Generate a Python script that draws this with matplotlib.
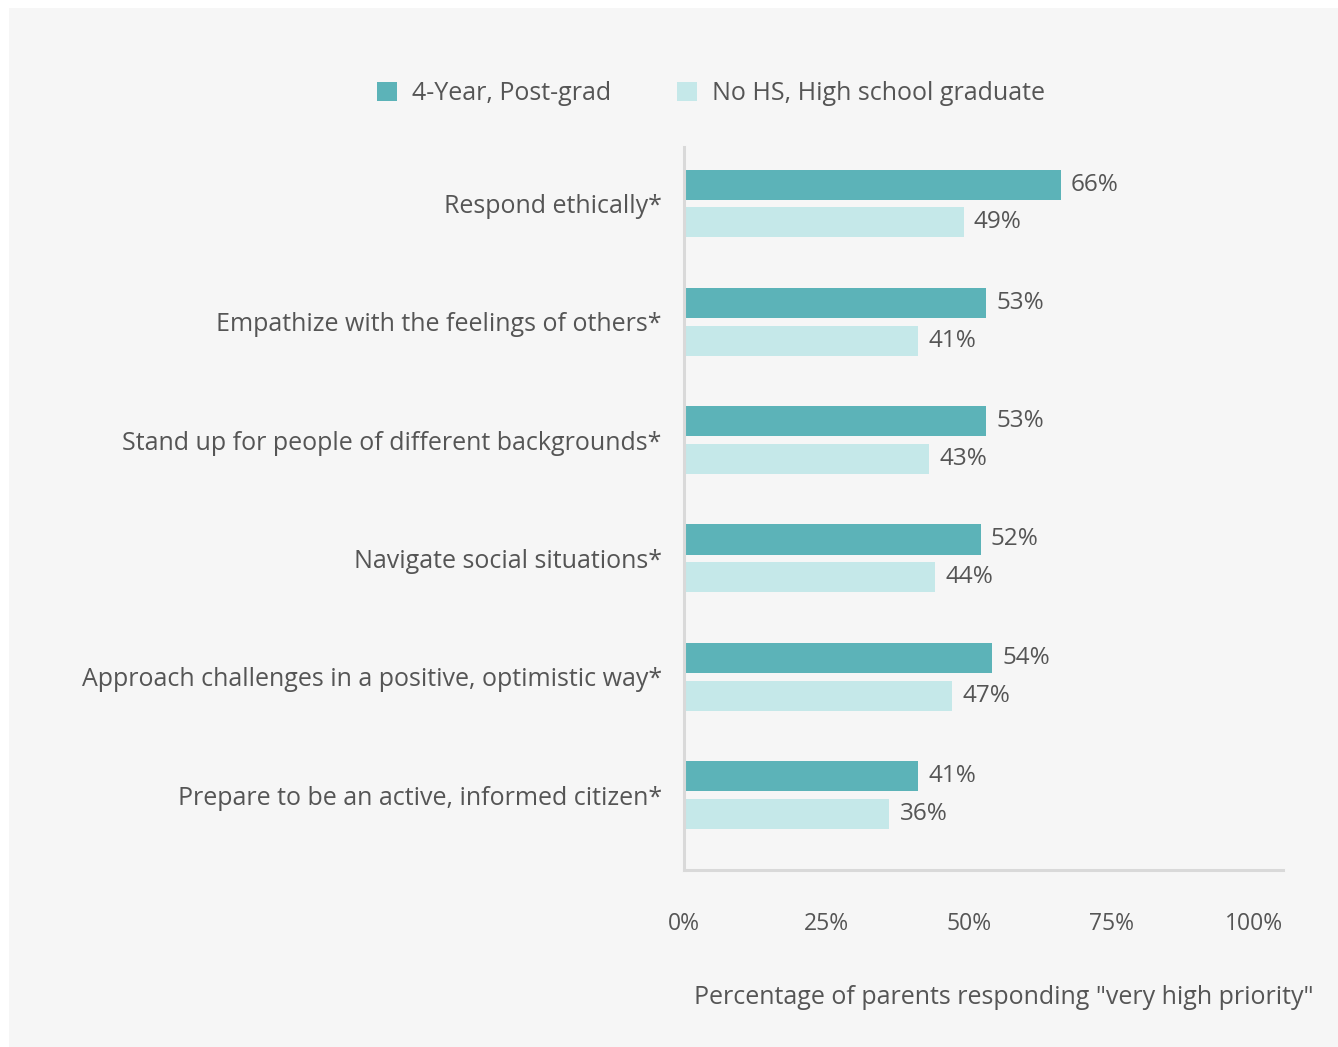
import matplotlib.pyplot as plt
import numpy as np
from matplotlib.patches import Rectangle, Patch

plt.rcParams['font.family'] = ['Open Sans', 'DejaVu Sans']

categories = ["Respond ethically*",
              "Empathize with the feelings of others*",
              "Stand up for people of different backgrounds*",
              "Navigate social situations*",
              "Approach challenges in a positive, optimistic way*",
              "Prepare to be an active, informed citizen*"]
postgrad = [66, 53, 53, 52, 54, 41]
highschool = [49, 41, 43, 44, 47, 36]
series_names = ["4-Year, Post-grad", "No HS, High school graduate"]
xticks = [0, 25, 50, 75, 100]

dark = '#5cb3b8'
light = '#c5e8e9'
txt = '#555555'
axcol = '#d9d9d9'

fig = plt.figure(figsize=(13.38, 10.47), dpi=100)
fig.patch.set_facecolor('white')
fig.patches.append(Rectangle((9 / 1338, 0), 1 - 9 / 1338, 1 - 8 / 1047,
                             transform=fig.transFigure, facecolor='#f6f6f6',
                             edgecolor='none', zorder=-10))

ax = fig.add_axes([684 / 1338, 1 - 870 / 1047, 599 / 1338, 723 / 1047])
ax.set_facecolor('none')

y = np.arange(len(categories))
off = 0.16
h = 0.254
ax.barh(y - off, postgrad, height=h, color=dark)
ax.barh(y + off, highschool, height=h, color=light)

for yi, v in zip(y, postgrad):
    ax.text(v + 1.8, yi - off, f"{v}%", va='center', ha='left', fontsize=17.5, color=txt)
for yi, v in zip(y, highschool):
    ax.text(v + 1.8, yi + off, f"{v}%", va='center', ha='left', fontsize=17.5, color=txt)

ax.set_xlim(0, 105)
ax.set_ylim(5.634, -0.478)
ax.set_xticks(xticks)
ax.set_xticklabels([f"{t}%" for t in xticks], fontsize=16.5, color=txt)
ax.set_yticks(y)
ax.set_yticklabels(categories, fontsize=18, color=txt)
ax.tick_params(axis='x', length=0, pad=30)
ax.tick_params(axis='y', length=0, pad=16)

for s in ['top', 'right']:
    ax.spines[s].set_visible(False)
for s in ['left', 'bottom']:
    ax.spines[s].set_color(axcol)
    ax.spines[s].set_linewidth(2.2)

fig.text(1314 / 1338, 1 - 998 / 1047, 'Percentage of parents responding "very high priority"',
         ha='right', va='center', fontsize=18, color=txt)

handles = [Patch(facecolor=dark, label=series_names[0]),
           Patch(facecolor=light, label=series_names[1])]
fig.legend(handles=handles, loc='center', bbox_to_anchor=(711 / 1338, 1 - 94 / 1047),
           ncol=2, frameon=False, fontsize=18, labelcolor=txt,
           handlelength=0.8, handleheight=0.8, columnspacing=2.6, handletextpad=0.6)

fig.savefig('out.png', dpi=100, facecolor=fig.get_facecolor())
